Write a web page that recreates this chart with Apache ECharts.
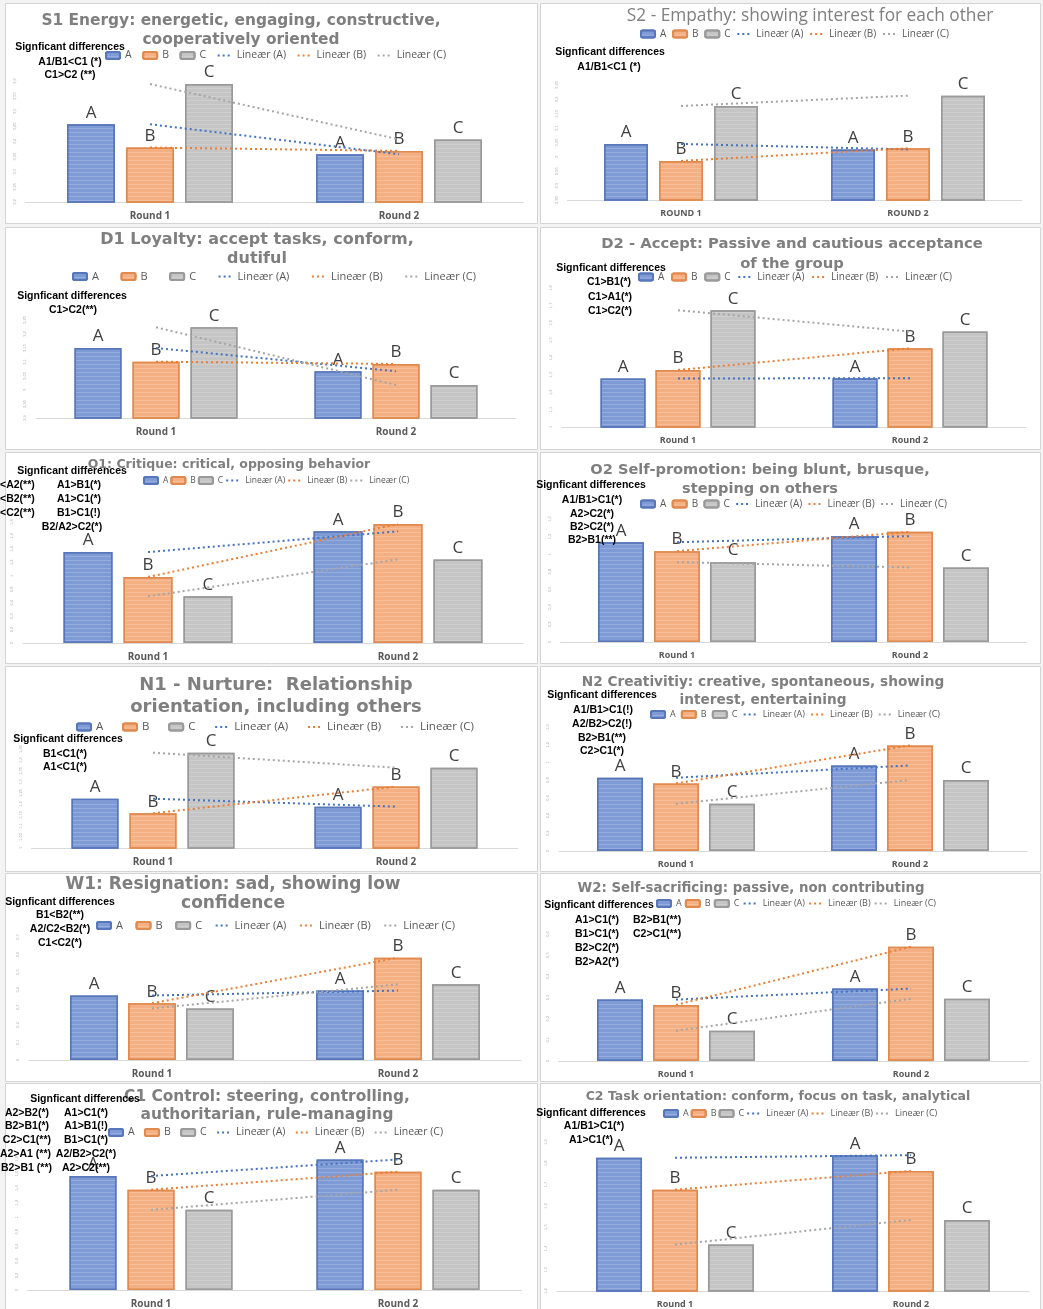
<!DOCTYPE html>
<html>
<head>
<meta charset="utf-8">
<script src="https://cdn.jsdelivr.net/npm/echarts@6/dist/echarts.min.js"></script>
<style>
html, body { margin: 0; padding: 0; background: #f3f3f3; }
#chart { width: 1043px; height: 1309px; }
</style>
</head>
<body>
<div id="chart"></div>
<script>
// categories
var ROUNDS = ['Round 1', 'Round 2'];
var ROUNDS_CAPS = ['ROUND 1', 'ROUND 2'];

// values per panel (Round 1, Round 2)
var S1_A = [3.457, 3.358], S1_B = [3.380, 3.369], S1_C = [3.590, 3.407];
var S2_A = [3.045, 3.026], S2_B = [2.986, 3.030], S2_C = [3.177, 3.213];
var D1_A = [3.150, 3.067], D1_B = [3.101, 3.093], D1_C = [3.224, 3.018];
var D2_A = [1.279, 1.281], D2_B = [1.328, 1.453], D2_C = [1.672, 1.549];
var O1_A = [1.353, 1.661], O1_B = [0.982, 1.770], O1_C = [0.694, 1.244];
var O2_A = [1.136, 1.205], O2_B = [1.034, 1.254], O2_C = [0.909, 0.848];
var N1_A = [1.224, 1.188], N1_B = [1.158, 1.279], N1_C = [1.433, 1.365];
var N2_A = [0.827, 0.966], N2_B = [0.763, 1.192], N2_C = [0.534, 0.801];
var W1_A = [0.367, 0.395], W1_B = [0.323, 0.582], W1_C = [0.293, 0.431];
var W2_A = [0.290, 0.342], W2_B = [0.265, 0.540], W2_C = [0.143, 0.294];
var C1_A = [1.566, 1.794], C1_B = [1.378, 1.624], C1_C = [1.101, 1.378];
var C2_A = [1.826, 1.838], C2_B = [1.676, 1.764], C2_C = [1.418, 1.534];

// value axis ticks: min, max, step
var S1_TICKS = [3.2, 3.6, 0.05];
var S2_TICKS = [2.85, 3.25, 0.05];
var D1_TICKS = [2.9, 3.25, 0.05];
var D2_TICKS = [1, 1.8, 0.1];
var O1_TICKS = [0, 1.8, 0.2];
var O2_TICKS = [0, 1.4, 0.2];
var N1_TICKS = [1, 1.45, 0.05];
var N2_TICKS = [0, 1.4, 0.2];
var W1_TICKS = [0, 0.7, 0.1];
var W2_TICKS = [0, 0.6, 0.1];
var C1_TICKS = [0, 1.8, 0.2];
var C2_TICKS = [1.2, 1.9, 0.1];

var LEGEND_NAMES = ['A', 'B', 'C', 'Lineær (A)', 'Lineær (B)', 'Lineær (C)'];

var FILL = ['#7f9bd6', '#f4b083', '#c5c5c5'];
var EDGE = ['#5877bb', '#e08a50', '#9a9a9a'];
var TREND = ['#4472c4', '#ed7d31', '#a5a5a5'];

// layout of every panel (page pixels)
var PANELS = [
  { vals: [S1_A, S1_B, S1_C], ticks: S1_TICKS, cats: ROUNDS, box: [5, 3, 532, 220],
    c1: 150, c2: 399, bw: 48, gap: 11, base: 202, top: 81,
    title: ['S1 Energy: energetic, engaging, constructive,', 'cooperatively oriented'], tx: 241, ty: [21, 40], tw: 400, bold: true, maxFs: 18,
    legend: [105, 440, 57, 10.5],
    notes: [['Signficant differences', 70, 47, 'center'], ['A1/B1<C1 (*)', 70, 62, 'center'], ['C1>C2 (**)', 70, 75, 'center']] },
  { vals: [S2_A, S2_B, S2_C], ticks: S2_TICKS, cats: ROUNDS_CAPS, box: [540, 3, 500, 220],
    c1: 681, c2: 908, bw: 44, gap: 11, base: 200, top: 85,
    title: ['S2 - Empathy: showing interest for each other'], tx: 810, ty: [16], tw: 367, bold: false, maxFs: 18,
    legend: [640, 943, 36, 10],
    notes: [['Signficant differences', 610, 52, 'center'], ['A1/B1<C1 (*)', 609, 67, 'center']] },
  { vals: [D1_A, D1_B, D1_C], ticks: D1_TICKS, cats: ROUNDS, box: [5, 227, 532, 222],
    c1: 156, c2: 396, bw: 47, gap: 11, base: 418, top: 320,
    title: ['D1 Loyalty: accept tasks, conform,', 'dutiful'], tx: 257, ty: [240, 259], tw: 374, bold: true, maxFs: 16,
    legend: [72, 470, 278, 11],
    notes: [['Signficant differences', 72, 296, 'center'], ['C1>C2(**)', 73, 310, 'center']] },
  { vals: [D2_A, D2_B, D2_C], ticks: D2_TICKS, cats: ROUNDS, box: [540, 227, 500, 222],
    c1: 678, c2: 910, bw: 45, gap: 10, base: 427, top: 288,
    title: ['D2 - Accept: Passive and cautious acceptance', 'of the group'], tx: 792, ty: [244, 264], tw: 382, bold: true, maxFs: 18,
    legend: [638, 946, 279, 10],
    notes: [['Signficant differences', 611, 268, 'center'], ['C1>B1(*)', 609, 282, 'center'], ['C1>A1(*)', 610, 297, 'center'], ['C1>C2(*)', 610, 311, 'center']] },
  { vals: [O1_A, O1_B, O1_C], ticks: O1_TICKS, cats: ROUNDS, box: [5, 452, 532, 211],
    c1: 148, c2: 398, bw: 49, gap: 11, base: 643, top: 522,
    title: ['O1: Critique: critical, opposing behavior'], tx: 229, ty: [465], tw: 282, bold: true, maxFs: 18,
    legend: [143, 401, 483, 8.5],
    notes: [['Signficant differences', 72, 471, 'center'], ['<A2(**)', 0, 485, 'left'], ['A1>B1(*)', 57, 485, 'left'],
            ['<B2(**)', 0, 499, 'left'], ['A1>C1(*)', 57, 499, 'left'], ['<C2(**)', 0, 513, 'left'], ['B1>C1(!)', 57, 513, 'left'],
            ['B2/A2>C2(*)', 72, 527, 'center']] },
  { vals: [O2_A, O2_B, O2_C], ticks: O2_TICKS, cats: ROUNDS, box: [540, 452, 500, 211],
    c1: 677, c2: 910, bw: 46, gap: 10, base: 642, top: 519,
    title: ['O2 Self-promotion: being blunt, brusque,', 'stepping on others'], tx: 760, ty: [470, 489], tw: 339, bold: true, maxFs: 18,
    legend: [640, 941, 506, 10],
    notes: [['Signficant differences', 591, 485, 'center'], ['A1/B1>C1(*)', 592, 500, 'center'], ['A2>C2(*)', 592, 514, 'center'],
            ['B2>C2(*)', 592, 527, 'center'], ['B2>B1(**)', 592, 540, 'center']] },
  { vals: [N1_A, N1_B, N1_C], ticks: N1_TICKS, cats: ROUNDS, box: [5, 666, 532, 205],
    c1: 153, c2: 396, bw: 47, gap: 11, base: 848, top: 749,
    title: ['N1 - Nurture:  Relationship', 'orientation, including others'], tx: 276, ty: [685, 707], tw: 288, bold: true, maxFs: 18,
    legend: [76, 468, 728, 11.5],
    notes: [['Signficant differences', 68, 739, 'center'], ['B1<C1(*)', 65, 754, 'center'], ['A1<C1(*)', 65, 767, 'center']] },
  { vals: [N2_A, N2_B, N2_C], ticks: N2_TICKS, cats: ROUNDS, box: [540, 666, 500, 205],
    c1: 676, c2: 910, bw: 46, gap: 10, base: 851, top: 727,
    title: ['N2 Creativitiy: creative, spontaneous, showing', 'interest, entertaining'], tx: 763, ty: [682, 700], tw: 364, bold: true, maxFs: 18,
    legend: [650, 934, 717, 9],
    notes: [['Signficant differences', 602, 695, 'center'], ['A1/B1>C1(!)', 603, 710, 'center'], ['A2/B2>C2(!)', 602, 724, 'center'],
            ['B2>B1(**)', 602, 738, 'center'], ['C2>C1(*)', 602, 751, 'center']] },
  { vals: [W1_A, W1_B, W1_C], ticks: W1_TICKS, cats: ROUNDS, box: [5, 873, 532, 208],
    c1: 152, c2: 398, bw: 48, gap: 10, base: 1060, top: 937,
    title: ['W1: Resignation: sad, showing low', 'confidence'], tx: 233, ty: [885, 904], tw: 336, bold: true, maxFs: 17,
    legend: [96, 449, 927, 11],
    notes: [['Signficant differences', 60, 902, 'center'], ['B1<B2(**)', 60, 915, 'center'], ['A2/C2<B2(*)', 60, 929, 'center'], ['C1<C2(*)', 60, 943, 'center']] },
  { vals: [W2_A, W2_B, W2_C], ticks: W2_TICKS, cats: ROUNDS, box: [540, 873, 500, 208],
    c1: 676, c2: 911, bw: 46, gap: 10, base: 1061, top: 934,
    title: ['W2: Self-sacrificing: passive, non contributing'], tx: 751, ty: [889], tw: 347, bold: true, maxFs: 18,
    legend: [656, 930, 906, 9],
    notes: [['Signficant differences', 599, 905, 'center'], ['A1>C1(*)', 575, 920, 'left'], ['B2>B1(**)', 633, 920, 'left'],
            ['B1>C1(*)', 575, 934, 'left'], ['C2>C1(**)', 633, 934, 'left'], ['B2>C2(*)', 575, 948, 'left'], ['B2>A2(*)', 575, 962, 'left']] },
  { vals: [C1_A, C1_B, C1_C], ticks: C1_TICKS, cats: ROUNDS, box: [5, 1083, 532, 240],
    c1: 151, c2: 398, bw: 47, gap: 11, base: 1293, top: 1159,
    title: ['C1 Control: steering, controlling,', 'authoritarian, rule-managing'], tx: 267, ty: [1097, 1115], tw: 286, bold: true, maxFs: 18,
    legend: [108, 437, 1134, 10.5],
    notes: [['Signficant differences', 85, 1099, 'center'],
            ['A2>B2(*)', 49, 1113, 'right'], ['A1>C1(*)', 86, 1113, 'center'],
            ['B2>B1(*)', 49, 1126, 'right'], ['A1>B1(!)', 86, 1126, 'center'],
            ['C2>C1(**)', 51, 1140, 'right'], ['B1>C1(*)', 86, 1140, 'center'],
            ['A2>A1 (**)', 51, 1154, 'right'], ['A2/B2>C2(*)', 86, 1154, 'center'],
            ['B2>B1 (**)', 52, 1168, 'right'], ['A2>C2(**)', 86, 1168, 'center']] },
  { vals: [C2_A, C2_B, C2_C], ticks: C2_TICKS, cats: ROUNDS, box: [540, 1083, 500, 240],
    c1: 675, c2: 911, bw: 46, gap: 10, base: 1293, top: 1142,
    title: ['C2 Task orientation: conform, focus on task, analytical'], tx: 778, ty: [1097], tw: 384, bold: true, maxFs: 18,
    legend: [663, 921, 1116, 9],
    notes: [['Signficant differences', 591, 1113, 'center'], ['A1/B1>C1(*)', 594, 1126, 'center'], ['A1>C1(*)', 591, 1140, 'center']] }
];

var measureCtx = document.createElement('canvas').getContext('2d');
function textWidth(str, font) {
    measureCtx.font = font;
    return measureCtx.measureText(str).width;
}

var grids = [], xAxes = [], yAxes = [], series = [], legends = [], panelRects = [], texts = [];

PANELS.forEach(function (p, i) {
    var step = p.c2 - p.c1;
    var isLeft = p.box[0] < 100;

    panelRects.push({
        type: 'rect', z: 0, silent: true,
        shape: { x: p.box[0] + 0.5, y: p.box[1] + 0.5, width: p.box[2], height: p.box[3] },
        style: { fill: '#ffffff', stroke: '#d4d4d4', lineWidth: 1 }
    });

    grids.push({ left: p.c1 - step / 2, top: p.top, width: step * 2, height: p.base - p.top });

    xAxes.push({
        type: 'category', gridIndex: i, data: p.cats,
        axisLine: { lineStyle: { color: '#d9d9d9', width: 1 } },
        axisTick: { show: false },
        axisLabel: { fontSize: isLeft ? 10 : 9, fontWeight: 'bold', color: '#595959', margin: 9, fontFamily: 'Open Sans' }
    });

    yAxes.push({
        type: 'value', gridIndex: i, min: p.ticks[0], max: p.ticks[1], interval: p.ticks[2],
        splitLine: { show: false }, axisLine: { show: false }, axisTick: { show: false },
        axisLabel: {
            fontSize: 4, color: '#b0b0b0', rotate: 90, margin: 9,
            formatter: function (v) { return String(Math.round(v * 100) / 100).replace('.', ','); }
        }
    });

    var gapPct = (p.gap / p.bw * 100).toFixed(1) + '%';
    ['A', 'B', 'C'].forEach(function (k, j) {
        series.push({
            type: 'bar', name: k, xAxisIndex: i, yAxisIndex: i, data: p.vals[j],
            barWidth: p.bw, barGap: gapPct,
            itemStyle: {
                color: FILL[j], borderColor: EDGE[j], borderWidth: 1.5,
                decal: { symbol: 'rect', symbolSize: 1, dashArrayX: [1, 0], dashArrayY: [1, 3], color: 'rgba(255,255,255,0.18)' }
            },
            label: { show: true, position: 'top', distance: 3, formatter: k, fontSize: 17, color: '#404040', fontFamily: 'Open Sans' },
            z: 2
        });
    });
    ['A', 'B', 'C'].forEach(function (k, j) {
        series.push({
            type: 'line', name: 'Lineær (' + k + ')', xAxisIndex: i, yAxisIndex: i, data: p.vals[j],
            symbol: 'none', silent: true,
            lineStyle: { color: TREND[j], width: 2, type: [2, 3] },
            // transparent item colour so the legend icon is the dotted line only
            itemStyle: { color: 'rgba(0,0,0,0)', borderWidth: 0 },
            z: 4
        });
    });

    // legend: spread the six items over the measured span
    var lg = p.legend, fs = lg[3];
    var used = 0;
    LEGEND_NAMES.forEach(function (n) { used += 14 + 5 + textWidth(n, fs + 'px "Open Sans"'); });
    var itemGap = Math.max(2, (lg[1] - lg[0] - used) / 5);
    legends.push({
        data: LEGEND_NAMES, left: lg[0], top: lg[2] - 7, orient: 'horizontal',
        itemWidth: 14, itemHeight: 7, itemGap: itemGap, selectedMode: false,
        textStyle: { fontSize: fs, color: '#595959', fontFamily: 'Open Sans', padding: [0, 0, 0, 0] },
        padding: 0
    });

    // title lines, sized to the width of the first line (capped)
    var family = p.bold ? '"DejaVu Sans"' : '"Open Sans"';
    var weight = p.bold ? 'bold ' : '';
    var tfs = Math.min(p.maxFs, 20 * p.tw / textWidth(p.title[0], weight + '20px ' + family));
    p.title.forEach(function (line, k) {
        texts.push({
            type: 'text', z: 50, silent: true, x: p.tx, y: p.ty[k],
            style: { text: line, font: weight + tfs.toFixed(1) + 'px ' + family, fill: '#7f7f7f', align: 'center', verticalAlign: 'middle' }
        });
    });

    p.notes.forEach(function (n) {
        texts.push({
            type: 'text', z: 60, silent: true, x: n[1], y: n[2],
            style: { text: n[0], font: 'bold 10.5px "Liberation Sans"', fill: '#000000', align: n[3], verticalAlign: 'middle' }
        });
    });
});

var myChart = echarts.init(document.getElementById('chart'), null, { renderer: 'canvas' });
myChart.setOption({
    backgroundColor: '#f3f3f3',
    animation: false,
    grid: grids,
    xAxis: xAxes,
    yAxis: yAxes,
    legend: legends,
    series: series,
    graphic: { elements: panelRects.concat(texts) }
});
</script>
</body>
</html>
